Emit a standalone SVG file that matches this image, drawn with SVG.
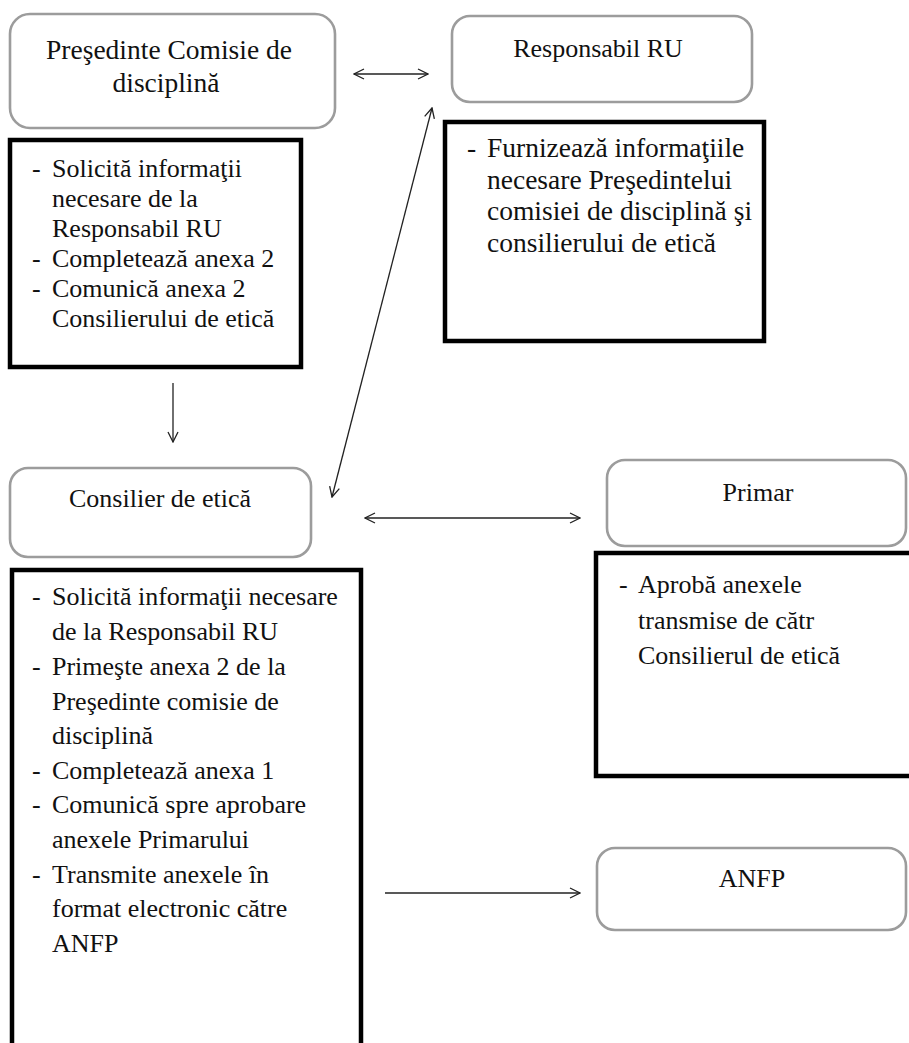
<svg xmlns="http://www.w3.org/2000/svg" width="909" height="1043" viewBox="0 0 909 1043">
<style>
text{font-family:"Liberation Serif","Tinos","Times New Roman","DejaVu Serif",serif;font-size:26px;fill:#111}
.t{text-anchor:middle}
.lg{font-size:27.5px}
.rb{fill:none;stroke:#9c9c9c;stroke-width:2.6}
.bb{fill:none;stroke:#000;stroke-width:4.5}
.c{fill:none;stroke:#222;stroke-width:1.3}
</style>
<defs>
<marker id="ah" viewBox="0 0 12 12" refX="11" refY="6" markerWidth="12" markerHeight="12" markerUnits="userSpaceOnUse" orient="auto-start-reverse">
<path d="M1,1 L11,6 L1,11" fill="none" stroke="#222" stroke-width="1.3"/>
</marker>
</defs>
<rect width="909" height="1043" fill="#fff"/>
<g id="connectors">
<line class="c" x1="354" y1="74" x2="428" y2="74" marker-start="url(#ah)" marker-end="url(#ah)"/>
<line class="c" x1="432" y1="108" x2="332" y2="497" marker-start="url(#ah)" marker-end="url(#ah)"/>
<line class="c" x1="173" y1="383" x2="173" y2="442" marker-end="url(#ah)"/>
<line class="c" x1="365" y1="518" x2="580" y2="518" marker-start="url(#ah)" marker-end="url(#ah)"/>
<line class="c" x1="385" y1="893" x2="580" y2="893" marker-end="url(#ah)"/>
</g>
<g id="presedinte">
<rect class="rb" x="10" y="14" width="325" height="114" rx="20"/>
<text class="t lg" x="169" y="59">Preşedinte Comisie de</text>
<text class="t lg" x="166" y="92">disciplină</text>
</g>
<g id="presedinte-tasks">
<rect class="bb" x="10" y="140" width="291" height="227"/>
<text x="32" y="177">-</text><text x="52" y="177">Solicită informaţii</text>
<text x="52" y="207">necesare de la</text>
<text x="52" y="237">Responsabil RU</text>
<text x="32" y="267">-</text><text x="52" y="267">Completează anexa 2</text>
<text x="32" y="297">-</text><text x="52" y="297">Comunică anexa 2</text>
<text x="52" y="327">Consilierului de etică</text>
</g>
<g id="responsabil">
<rect class="rb" x="452" y="16" width="300" height="86" rx="18"/>
<text class="t" x="598" y="57">Responsabil RU</text>
</g>
<g id="responsabil-tasks">
<rect class="bb" x="445" y="122" width="319" height="219"/>
<text class="lg" x="467" y="157">-</text><text class="lg" x="487" y="157">Furnizează informaţiile</text>
<text class="lg" x="487" y="189">necesare Preşedintelui</text>
<text class="lg" x="487" y="220">comisiei de disciplină şi</text>
<text class="lg" x="487" y="252">consilierului de etică</text>
</g>
<g id="consilier">
<rect class="rb" x="10" y="468" width="301" height="89" rx="18"/>
<text class="t" x="160" y="507">Consilier de etică</text>
</g>
<g id="consilier-tasks">
<path class="bb" d="M12,1045 V570 H361 V1045"/>
<text x="32" y="605">-</text><text x="52" y="605">Solicită informaţii necesare</text>
<text x="52" y="640">de la Responsabil RU</text>
<text x="32" y="675">-</text><text x="52" y="675">Primeşte anexa 2 de la</text>
<text x="52" y="710">Preşedinte comisie de</text>
<text x="52" y="744">disciplină</text>
<text x="32" y="779">-</text><text x="52" y="779">Completează anexa 1</text>
<text x="32" y="813">-</text><text x="52" y="813">Comunică spre aprobare</text>
<text x="52" y="848">anexele Primarului</text>
<text x="32" y="883">-</text><text x="52" y="883">Transmite anexele în</text>
<text x="52" y="917">format electronic către</text>
<text x="52" y="952">ANFP</text>
</g>
<g id="primar">
<rect class="rb" x="607" y="460" width="299" height="86" rx="18"/>
<text class="t" x="758" y="501">Primar</text>
</g>
<g id="primar-tasks">
<path class="bb" d="M911,553 H596 V776 H911"/>
<text x="619" y="593">-</text><text x="638" y="593">Aprobă anexele</text>
<text x="638" y="629">transmise de cătr</text>
<text x="638" y="664">Consilierul de etică</text>
</g>
<g id="anfp">
<rect class="rb" x="597" y="848" width="309" height="82" rx="18"/>
<text class="t" x="752" y="887">ANFP</text>
</g>
</svg>
